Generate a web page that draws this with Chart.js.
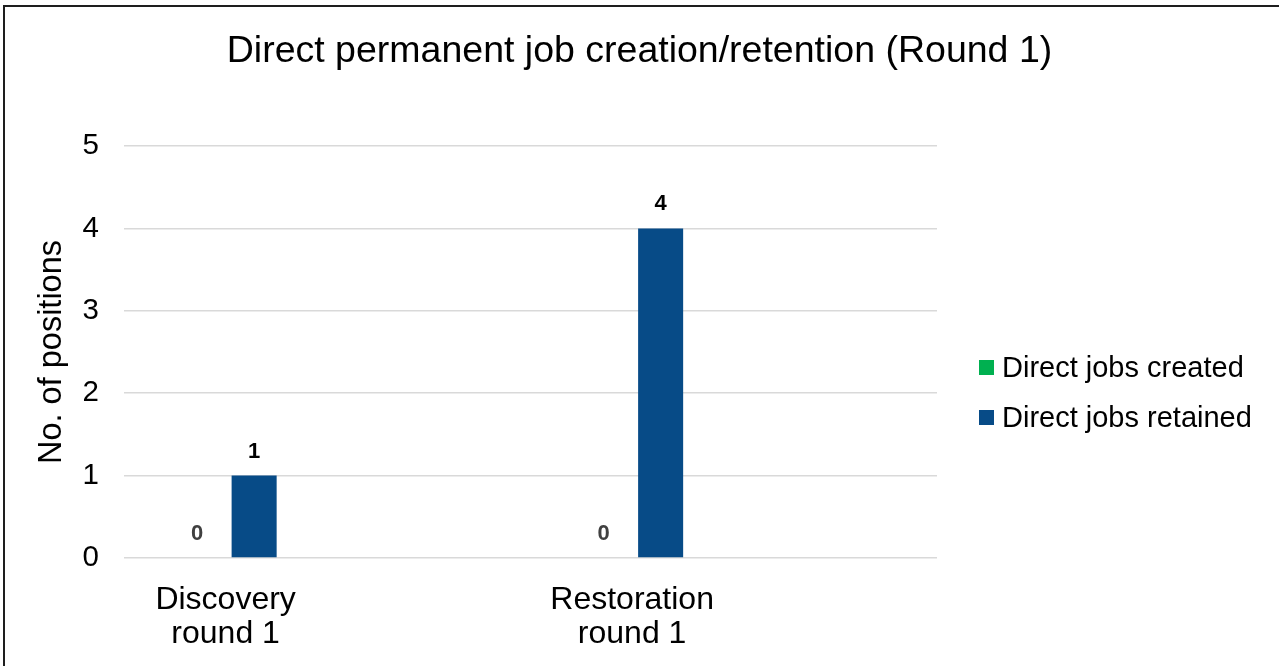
<!DOCTYPE html>
<html>
<head>
<meta charset="utf-8">
<title>Direct permanent job creation/retention (Round 1)</title>
<script src="https://cdn.jsdelivr.net/npm/chart.js@4.4.1/dist/chart.umd.min.js"></script>
<style>
  html, body { margin: 0; padding: 0; background: #ffffff; overflow: hidden; }
  #wrap { position: relative; width: 1279px; height: 666px; }
  #jobs { position: absolute; left: 0; top: 0; }
  #frame {
    position: absolute; left: 3px; top: 5px; width: 2000px; height: 2000px;
    border-top: 2px solid #1e1e1e; border-left: 2px solid #1e1e1e;
    pointer-events: none;
  }
</style>
</head>
<body>
<div id="wrap">
  <canvas id="jobs" width="1279" height="666"></canvas>
  <div id="frame"></div>
</div>
<script>
// ---- data ----
const categories = [['Discovery', 'round 1'], ['Restoration', 'round 1']];
const seriesNames = ['Direct jobs created', 'Direct jobs retained'];
const jobsCreated = [0, 0];
const jobsRetained = [1, 4];
const yTickValues = [0, 1, 2, 3, 4, 5];
const seriesColors = ['#00B050', '#074B87'];

const FONT = "'Liberation Sans', Arial, Helvetica, sans-serif";

// values written above each bar
const barValueLabels = {
  id: 'barValueLabels',
  afterDatasetsDraw(chart) {
    const ctx = chart.ctx;
    ctx.save();
    ctx.font = 'bold 22px ' + FONT;
    ctx.textAlign = 'center';
    ctx.textBaseline = 'middle';
    chart.data.datasets.forEach((ds, di) => {
      const meta = chart.getDatasetMeta(di);
      meta.data.forEach((bar, i) => {
        const v = ds.data[i].y;
        ctx.fillStyle = v === 0 ? '#404040' : '#000000';
        ctx.fillText(String(v), bar.x, bar.y - 24);
      });
    });
    ctx.restore();
  }
};

// legend to the right of the plot
const sideLegend = {
  id: 'sideLegend',
  afterDraw(chart) {
    const { ctx, chartArea } = chart;
    const x = chartArea.right + 42;
    const midY = (chartArea.top + chartArea.bottom) / 2;
    ctx.save();
    ctx.font = '29px ' + FONT;
    ctx.textAlign = 'left';
    ctx.textBaseline = 'middle';
    chart.data.datasets.forEach((ds, i) => {
      const y = midY + 15.5 + i * 50;
      ctx.fillStyle = ds.backgroundColor;
      ctx.fillRect(x, y - 7.5, 15, 15);
      ctx.fillStyle = '#000000';
      ctx.fillText(ds.label, x + 23, y + 1);
    });
    ctx.restore();
  }
};

const toPoints = arr => arr.map((v, i) => ({ x: i, y: v }));

new Chart(document.getElementById('jobs'), {
  type: 'bar',
  data: {
    datasets: [
      { label: seriesNames[0], data: toPoints(jobsCreated), backgroundColor: seriesColors[0] },
      { label: seriesNames[1], data: toPoints(jobsRetained), backgroundColor: seriesColors[1] }
    ]
  },
  options: {
    responsive: false,
    animation: false,
    events: [],
    categoryPercentage: 0.2805,
    barPercentage: 0.79,
    layout: { padding: { left: 0, right: 0, top: 0, bottom: 0 } },
    plugins: {
      legend: { display: false },
      tooltip: { enabled: false },
      title: {
        display: true,
        text: 'Direct permanent job creation/retention (Round 1)',
        color: '#000000',
        font: { family: FONT, size: 37.5, weight: 'normal', lineHeight: 1.2 },
        padding: { top: 29.5, bottom: 71.5 }
      }
    },
    scales: {
      x: {
        type: 'linear',
        min: -0.25,
        max: 1.75,
        offset: false,
        grid: { display: false, drawTicks: false },
        border: { display: false },
        afterBuildTicks: s => { s.ticks = categories.map((_, i) => ({ value: i })); },
        afterFit: s => { s.height = 108; },
        ticks: {
          padding: 25,
          color: '#000000',
          font: { family: FONT, size: 32, lineHeight: 1.07 },
          maxRotation: 0,
          autoSkip: false,
          callback: v => categories[v]
        }
      },
      y: {
        min: 0,
        max: 5,
        afterBuildTicks: s => { s.ticks = yTickValues.map(v => ({ value: v })); },
        afterFit: s => { s.width = 124; },
        grid: { color: '#d9d9d9', lineWidth: 1.5, drawTicks: false },
        border: { display: false },
        ticks: {
          padding: 25,
          color: '#000000',
          font: { family: FONT, size: 29.5 }
        },
        title: {
          display: true,
          text: 'No. of positions',
          color: '#000000',
          font: { family: FONT, size: 32.5, lineHeight: 1.2 },
          padding: { top: 33, bottom: 0 }
        }
      },
      gutter: {
        type: 'linear',
        position: 'right',
        display: true,
        grid: { display: false, drawTicks: false },
        border: { display: false },
        ticks: { display: false },
        afterFit: s => { s.width = 342; }
      }
    }
  },
  plugins: [barValueLabels, sideLegend]
});
</script>
</body>
</html>
